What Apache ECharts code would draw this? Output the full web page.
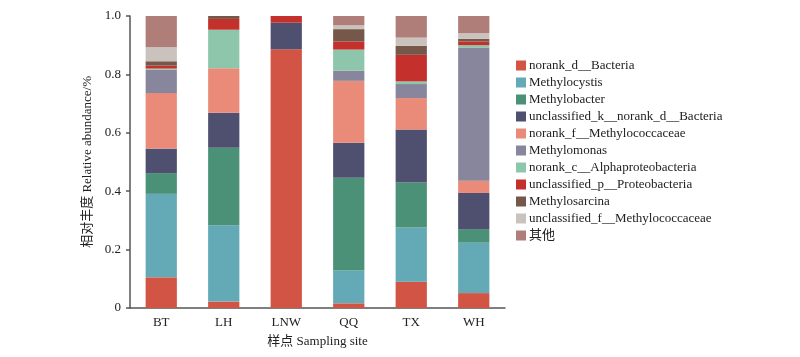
<!DOCTYPE html>
<html>
<head>
<meta charset="utf-8">
<script src="https://cdn.jsdelivr.net/npm/echarts@6/dist/echarts.min.js"></script>
<style>html,body{margin:0;padding:0;background:#fff}#c{width:800px;height:357px}</style>
</head>
<body>
<div id="c"></div>
<script>
const categories = ['BT', 'LH', 'LNW', 'QQ', 'TX', 'WH'];
const seriesNames = ['norank_d__Bacteria', 'Methylocystis', 'Methylobacter', 'unclassified_k__norank_d__Bacteria', 'norank_f__Methylococcaceae', 'Methylomonas', 'norank_c__Alphaproteobacteria', 'unclassified_p__Proteobacteria', 'Methylosarcina', 'unclassified_f__Methylococcaceae', '其他'];
const norank_d_Bacteria = [0.105, 0.022, 0.886, 0.016, 0.090, 0.051];
const Methylocystis = [0.286, 0.261, 0, 0.112, 0.186, 0.173];
const Methylobacter = [0.071, 0.266, 0, 0.318, 0.154, 0.046];
const unclassified_k = [0.084, 0.120, 0.091, 0.120, 0.181, 0.124];
const norank_f_Methylococcaceae = [0.190, 0.152, 0, 0.212, 0.108, 0.042];
const Methylomonas = [0.080, 0, 0, 0.035, 0.048, 0.455];
const norank_c_Alpha = [0.004, 0.132, 0, 0.072, 0.009, 0.009];
const unclassified_p = [0.010, 0.037, 0.023, 0.028, 0.091, 0.013];
const Methylosarcina = [0.015, 0.010, 0, 0.042, 0.031, 0.009];
const unclassified_f = [0.048, 0, 0, 0.013, 0.028, 0.019];
const others = [0.107, 0.000, 0, 0.032, 0.074, 0.059];
const yTicks = [0, 0.2, 0.4, 0.6, 0.8, 1.0];

const seriesData = [norank_d_Bacteria, Methylocystis, Methylobacter, unclassified_k, norank_f_Methylococcaceae, Methylomonas, norank_c_Alpha, unclassified_p, Methylosarcina, unclassified_f, others];
const colors = ['#D25445', '#63A9B6', '#4A9177', '#4F5070', '#E98B78', '#87869D', '#8DC6AB', '#C4312D', '#75584A', '#C9C2BD', '#B07E78'];

const serif = '"Liberation Serif", "Noto Sans CJK SC", serif';
const chart = echarts.init(document.getElementById('c'), null, {renderer: 'canvas'});
chart.setOption({
  animation: false,
  color: colors,
  grid: {left: 130, top: 16, width: 375, height: 292, containLabel: false},
  legend: {
    orient: 'vertical', left: 511, top: 54,
    itemWidth: 10, itemHeight: 10, itemGap: 4,
    icon: 'rect',
    textStyle: {fontFamily: serif, fontSize: 13, lineHeight: 13, color: '#222', padding: [0, 0, 0, -2]},
    data: seriesNames
  },
  xAxis: {
    type: 'category', data: categories,
    axisLine: {lineStyle: {color: '#555', width: 1.5}},
    axisTick: {show: false},
    axisLabel: {fontFamily: serif, fontSize: 13, color: '#222', margin: 8},
    name: '样点 Sampling site', nameLocation: 'middle', nameGap: 27,
    nameTextStyle: {fontFamily: serif, fontSize: 13, color: '#222'}
  },
  yAxis: {
    type: 'value', min: 0, max: 1, interval: 0.2,
    axisLine: {show: true, lineStyle: {color: '#555', width: 1.5}},
    axisTick: {show: true, length: 4, lineStyle: {color: '#555', width: 1.5}},
    splitLine: {show: false},
    axisLabel: {fontFamily: serif, fontSize: 13, color: '#222', margin: 9,
      formatter: v => (v === 0 ? '0' : v.toFixed(1))}
  },
  graphic: [{
    type: 'text', left: 81, top: 76, rotation: Math.PI / 2,
    style: {text: '相对丰度 Relative abundance/%', font: '13px ' + serif, fill: '#222'}
  }],
  series: seriesNames.map((n, i) => ({
    name: n, type: 'bar', stack: 'all', barWidth: '50%',
    data: seriesData[i]
  }))
});
</script>
</body>
</html>
